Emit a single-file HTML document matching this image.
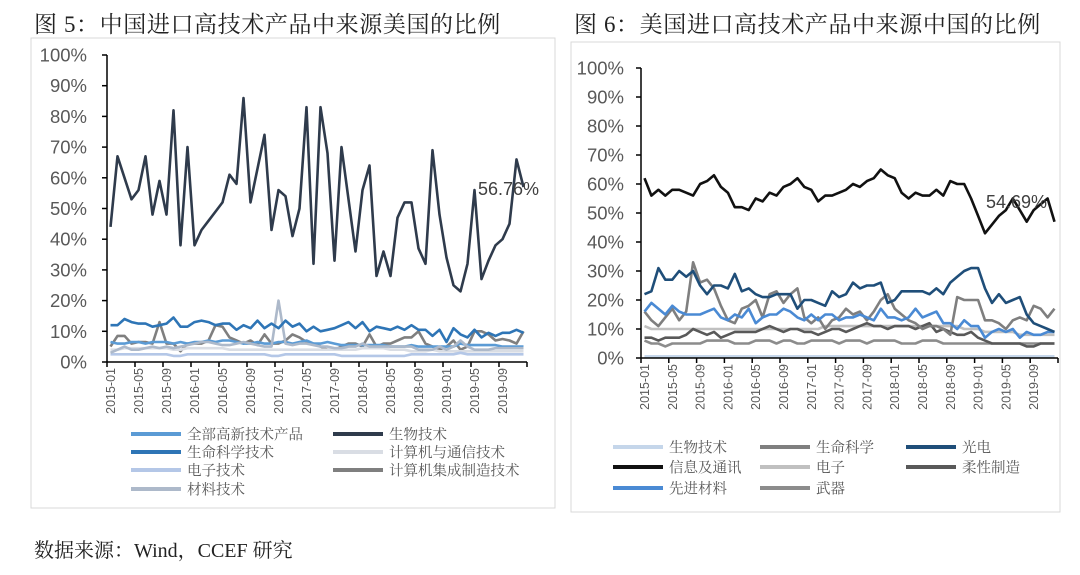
<!DOCTYPE html>
<html><head><meta charset="utf-8">
<style>
body{margin:0;width:1080px;height:575px;background:#fff;overflow:hidden;font-family:"Liberation Sans","Noto Sans CJK SC",sans-serif;}
.t{position:absolute;font-size:23px;color:#222;font-family:"Liberation Serif","Noto Serif CJK SC",serif;white-space:nowrap;letter-spacing:0.6px;}
</style></head>
<body>
<div class="t" style="left:34px;top:6px;">图 5：中国进口高技术产品中来源美国的比例</div>
<div class="t" style="left:574px;top:6px;">图 6：美国进口高技术产品中来源中国的比例</div>
<div class="t" style="left:34px;top:534px;font-size:20px;letter-spacing:0;">数据来源：Wind，CCEF 研究</div>
<svg id="svg" width="1080" height="575" style="position:absolute;left:0;top:0">
<rect x="31" y="38" width="524" height="470" fill="none" stroke="#d9d9d9"/>
<rect x="571" y="42" width="489" height="470" fill="none" stroke="#d9d9d9"/>
</svg>
<script>
const months=[];for(let y=2015;y<=2019;y++)for(let m=1;m<=12;m++)months.push(y+'-'+String(m).padStart(2,'0'));
const yTicks=[0,10,20,30,40,50,60,70,80,90,100];
// Left chart series
const L_bio=[44,67,60,53,56,67,48,59,48,82,38,70,38,43,46,49,52,61,58,86,52,63,74,43,56,54,41,50,83,32,83,68,33,70,53,36,56,64,28,36,28,47,52,52,37,32,69,48,34,25,23,32,56,27,33,38,40,45,66,57];
const L_life=[12,12,14,13,12.5,12.5,11.5,12,12.5,14.5,11.5,11.5,13,13.5,13,12,12.5,12.5,10.5,12,11,13.5,11,12.5,11,13.5,11.5,12.5,10,11.5,10,10.5,11,12,13,11,13,10,11.5,11,10.5,11.5,10.5,12,10.5,10.5,8.5,10.5,6.5,11,9,8,10.5,8,9.5,8.5,9.5,9.5,10.5,9.5];
const L_all=[6.5,6,6,6.5,6.5,6,6.5,6.5,6.5,6,6.5,6,6.5,6.5,7,6.5,7,7,6.5,6,6,6.5,6,6,6.5,6.5,6,6.5,7,6,6,6.5,6,5.5,5.5,5.5,5.5,5.5,5.5,5.5,5,5,5,5.5,5,5,5,5,5,5,6,5.5,5.5,5.5,5.5,5.5,5,5,5,5];
const L_cim=[5,8.5,8.5,6,6.5,6.5,6,13,6,6,3.5,6,6,6,7,12,11.5,8,7,6,7,5.5,9,6,6,7,9,8,6.5,6,5,4,4,5,6,6,5,9,5,6,6,7,8,8,10,6,5,4,5,7,4,5,10,10,9,7,7.5,7,6,10];
const L_comm=[4,4,4.5,4.5,4.5,4.5,4.5,4.5,4.5,4,4,4.5,4.5,4.5,4.5,4.5,4.5,4,4,4,4,4,4,4,4,4,4,4,4,4,4,4,4,4,4,4,4.5,4.5,4.5,4.5,4,4,4,3.5,3.5,3.5,4,3.5,3.5,3.5,3.5,3.5,3.5,3.5,3.5,3.5,3.5,3.5,3.5,3.5];
const L_elec=[2.5,2.5,2.5,2.5,2.5,2.5,2.5,2.5,2.5,2,2,2.5,2.5,2.5,2.5,2.5,2.5,2.5,2.5,2.5,2.5,2.5,2.5,2,2,2.5,2.5,2.5,2.5,2.5,2.5,2.5,2.5,2,2,2,2,2,2,2,2,2,2,2.5,2.5,2.5,2.5,2.5,2.5,2.5,3,2.5,2.5,2.5,2.5,2.5,2.5,2.5,2.5,2.5];
const L_mat=[3,4,5,4,4,4.5,5,4.5,5,4.5,5,5.5,6,6.5,6.5,6,5.5,5.5,6,6.5,6,5.5,5,5,20,6,5.5,6,6,5.5,5,5,4.5,4.5,5,5,6,5,5,5,5,5,5,5,4,4,4,5,4,5,7,5,4,4,4,4.5,4.5,4.5,4.5,4.5];
// Right chart series
const R_ict=[62,56,58,56,58,58,57,56,60,61,63,59,57,52,52,51,55,54,57,56,59,60,62,59,58,54,56,56,57,58,60,59,61,62,65,63,62,57,55,57,56,56,58,56,61,60,60,55,49,43,46,49,51,55,51,47,51,53,55,47];
const R_opto=[22,23,31,27,27,30,28,30,25,22,25,25,24,29,23,24,22,21,21,22,22,22,17,20,20,19,18,23,21,22,26,24,25,25,26,19,20,23,23,23,23,22,24,22,26,28,30,31,31,24,19,22,19,20,21,15,12,11,10,9];
const R_mat=[16,19,17,15,18,16,15,15,15,16,17,14,13,15,14,17,12,14,15,15,17,16,14,13,15,13,15,15,13,14,14,15,14,13,17,14,14,13,14,17,14,15,16,12,12,10,13,11,11,7,9,10,9,10,7,9,8,8,9,9];
const R_life=[16,13,11,14,17,13,16,33,26,27,24,18,13,12,17,18,20,14,22,23,19,22,24,14,12,14,10,13,14,17,15,16,13,16,20,22,17,15,13,12,10,11,11,10,8,21,20,20,20,13,13,12,10,13,14,13,18,17,14,17];
const R_flex=[7,7,6,7,7,7,8,10,9,8,9,7,8,9,9,9,9,10,11,10,9,10,10,9,9,8,9,10,10,9,10,11,12,11,11,10,11,11,11,10,11,12,9,10,9,8,8,9,7,6,5,5,5,5,5,4,4,5,5,5];
const R_weap=[6,5,5,4,5,5,5,5,5,6,6,6,6,5,5,5,6,6,6,5,6,6,5,5,6,6,6,6,5,6,6,6,5,6,6,6,6,5,5,5,6,6,6,5,5,5,5,5,5,5,5,5,5,5,5,5,5,5,5,5];
const R_elec=[11,10,10,10,10,10,10,10,10,10,10,10,10,10,10,10,10,10,10,10,10,10,10,10,10,10,11,11,11,11,11,11,11,11,11,11,11,11,11,11,11,11,11,11,11,11,10,10,10,9,9,9,9,9,8,8,8,8,8,8];
const R_bio=[0.6,0.6,0.6,0.6,0.6,0.6,0.6,0.6,0.6,0.6,0.6,0.6,0.6,0.6,0.6,0.6,0.6,0.6,0.6,0.6,0.6,0.6,0.6,0.6,0.6,0.6,0.6,0.6,0.6,0.6,0.6,0.6,0.6,0.6,0.6,0.6,0.6,0.6,0.6,0.6,0.6,0.6,0.6,0.6,0.6,0.6,0.6,0.6,0.6,0.6,0.6,0.6,0.6,0.6,0.6,0.6,0.6,0.6,0.6,0.6];

const NS='http://www.w3.org/2000/svg';const svg=document.getElementById('svg');
function mk(tag,attrs,parent){const e=document.createElementNS(NS,tag);for(const k in attrs)e.setAttribute(k,attrs[k]);(parent||svg).appendChild(e);return e;}
function chart(cfg){
  const g=mk('g',{});
  
  
  const step=(cfg.x1-cfg.x0)/months.length;
  const X=i=>cfg.x0+step*(i+0.5);
  const Y=v=>cfg.y1-(v/100)*(cfg.y1-cfg.y0);
  yTicks.forEach(t=>{
    const tx=mk('text',{x:cfg.x0-cfg.lg,y:Y(t)+6.5,'text-anchor':'end','font-size':18.5,fill:'#595959','font-family':'Liberation Sans, sans-serif'},g);
    tx.textContent=t+'%';
    
    
    mk('line',{x1:cfg.x0-5,x2:cfg.x0,y1:Y(t),y2:Y(t),stroke:'#000','stroke-width':1.5},g);
  });
  months.forEach((m,i)=>{
    if(i%4===0){
      const tx=mk('text',{x:0,y:0,transform:`translate(${X(i)+4.5},${cfg.y1+6}) rotate(-90)`,'text-anchor':'end','font-size':12.5,fill:'#595959','font-family':'Liberation Sans, sans-serif'},g);
      tx.textContent=m;
      
      
      mk('line',{x1:cfg.x0+step*i,x2:cfg.x0+step*i,y1:cfg.y1,y2:cfg.y1+5,stroke:'#000','stroke-width':1.5},g);
    }
  });
  mk('line',{x1:cfg.x1,x2:cfg.x1,y1:cfg.y1,y2:cfg.y1+5,stroke:'#000','stroke-width':1.5},g);
  cfg.series.forEach(s=>{
    const p=mk('polyline',{points:s.d.map((v,i)=>X(i).toFixed(1)+','+Y(v).toFixed(1)).join(' '),fill:'none',stroke:s.c,'stroke-width':2.6,'stroke-linejoin':'round'},g);
    
    
  });
  const ax=mk('line',{x1:cfg.x0,x2:cfg.x0,y1:cfg.y0,y2:cfg.y1,stroke:'#000','stroke-width':1.5},g);
  
  
  const bx=mk('line',{x1:cfg.x0,x2:cfg.x1,y1:cfg.y1,y2:cfg.y1,stroke:'#000','stroke-width':1.5},g);
  
  
  const lb=mk('text',{x:cfg.lx,y:cfg.ly,'font-size':18,fill:'#404040','font-family':'Liberation Sans, sans-serif'},g);
  lb.textContent=cfg.label;
  
  
  cfg.legend.forEach(l=>{
    mk('line',{x1:l.x,x2:l.x+50,y1:l.y,y2:l.y,stroke:l.c,'stroke-width':4},g);
    const t=mk('text',{x:l.x+56,y:l.y+5.5,'font-size':14.5,fill:'#595959','font-family':'Liberation Serif, Noto Serif CJK SC, serif'},g);
    t.textContent=l.t;
    
    
  });
}
chart({name:'left-chart',x0:107,x1:527,y0:55,y1:362,lg:20,label:'56.76%',lx:478,ly:195,
 series:[{k:'cim',d:L_cim,c:'#7f7f7f'},{k:'comm',d:L_comm,c:'#d9dde4'},{k:'elec',d:L_elec,c:'#b4c7e7'},{k:'all',d:L_all,c:'#5b9bd5'},{k:'mat',d:L_mat,c:'#adb9ca'},{k:'life',d:L_life,c:'#2e75b6'},{k:'bio',d:L_bio,c:'#2f3b4c'}],
 legend:[{x:131,y:434,c:'#5b9bd5',t:'全部高新技术产品'},{x:333,y:434,c:'#2f3b4c',t:'生物技术'},{x:131,y:452,c:'#2e75b6',t:'生命科学技术'},{x:333,y:452,c:'#d9dde4',t:'计算机与通信技术'},{x:131,y:470,c:'#b4c7e7',t:'电子技术'},{x:333,y:470,c:'#7f7f7f',t:'计算机集成制造技术'},{x:131,y:489,c:'#adb9ca',t:'材料技术'}]});
chart({name:'right-chart',x0:641,x1:1058,y0:68,y1:358,lg:17,label:'54.69%',lx:986,ly:208,
 series:[{k:'bio',d:R_bio,c:'#c5d6ea'},{k:'elec',d:R_elec,c:'#c0c0c0'},{k:'weapon',d:R_weap,c:'#8c8c8c'},{k:'flex',d:R_flex,c:'#595959'},{k:'life',d:R_life,c:'#7f7f7f'},{k:'mat',d:R_mat,c:'#4a8ad4'},{k:'opto',d:R_opto,c:'#1f4e79'},{k:'ict',d:R_ict,c:'#111111'}],
 legend:[{x:613,y:447,c:'#c5d6ea',t:'生物技术'},{x:760,y:447,c:'#7f7f7f',t:'生命科学'},{x:906,y:447,c:'#1f4e79',t:'光电'},{x:613,y:467,c:'#111111',t:'信息及通讯'},{x:760,y:467,c:'#c0c0c0',t:'电子'},{x:906,y:467,c:'#595959',t:'柔性制造'},{x:613,y:488,c:'#4a8ad4',t:'先进材料'},{x:760,y:488,c:'#8c8c8c',t:'武器'}]});
</script>
</body></html>
